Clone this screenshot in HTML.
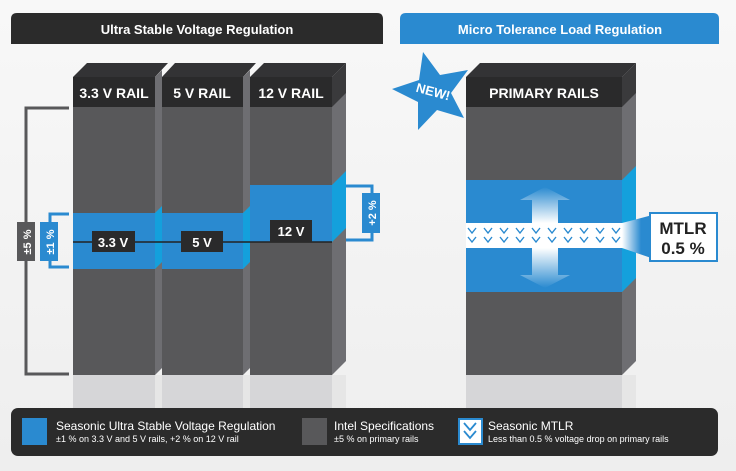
<!DOCTYPE html>
<html><head><meta charset="utf-8"><style>
html,body{margin:0;padding:0;background:#f3f3f3;}
svg{display:block;font-family:"Liberation Sans",Arial,sans-serif;}
</style></head><body>
<svg width="736" height="471" viewBox="0 0 736 471" xmlns="http://www.w3.org/2000/svg">
<defs>
<linearGradient id="bg" x1="0" y1="0" x2="0" y2="1"><stop offset="0" stop-color="#f8f8f8"/><stop offset="1" stop-color="#eeeeee"/></linearGradient>
<linearGradient id="arU" x1="0" y1="0" x2="0" y2="1"><stop offset="0" stop-color="#2a8ad0"/><stop offset="1" stop-color="#ffffff"/></linearGradient>
<linearGradient id="arD" x1="0" y1="1" x2="0" y2="0"><stop offset="0" stop-color="#2a8ad0"/><stop offset="1" stop-color="#ffffff"/></linearGradient>
<linearGradient id="con" x1="0" y1="0" x2="1" y2="0"><stop offset="0" stop-color="#ffffff"/><stop offset="0.5" stop-color="#2a8ad0"/></linearGradient>
</defs>
<rect width="736" height="471" fill="url(#bg)"/>
<path d="M11,44 V19 Q11,13 17,13 H377 Q383,13 383,19 V44 Z" fill="#2b2b2b"/>
<text x="197" y="34" fill="#fff" font-size="13" font-weight="bold" text-anchor="middle">Ultra Stable Voltage Regulation</text>
<path d="M400,44 V19 Q400,13 406,13 H713 Q719,13 719,19 V44 Z" fill="#2a8ad0"/>
<text x="560" y="34" fill="#fff" font-size="13" font-weight="bold" text-anchor="middle">Micro Tolerance Load Regulation</text>

<rect x="73" y="375" width="273" height="33" fill="#d6d6d8"/>
<rect x="155" y="375" width="7" height="33" fill="#e6e6e6"/>
<rect x="243" y="375" width="7" height="33" fill="#e6e6e6"/>
<rect x="332" y="375" width="14" height="33" fill="#e6e6e6"/>
<rect x="466" y="375" width="170" height="33" fill="#d6d6d8"/>
<rect x="622" y="375" width="14" height="33" fill="#e6e6e6"/>

<polygon points="73,77 87,63 168,63 155,77" fill="#333335"/>
<polygon points="162,77 175,63 256,63 243,77" fill="#333335"/>
<polygon points="250,77 264,63 346,63 332,77" fill="#333335"/>
<rect x="73" y="77" width="82" height="298" fill="#58585a"/>
<rect x="162" y="77" width="81" height="298" fill="#58585a"/>
<rect x="250" y="77" width="82" height="298" fill="#58585a"/>
<polygon points="155,77 162,70 162,368 155,375" fill="#6e6e72"/>
<polygon points="243,77 250,70 250,368 243,375" fill="#6e6e72"/>
<polygon points="332,77 346,63 346,361 332,375" fill="#6e6e72"/>
<rect x="73" y="77" width="82" height="30" fill="#2a2a2b"/>
<rect x="162" y="77" width="81" height="30" fill="#2a2a2b"/>
<rect x="250" y="77" width="82" height="30" fill="#2a2a2b"/>
<polygon points="332,77 346,63 346,93 332,107" fill="#3a3a3c"/>
<text x="114" y="98" fill="#fff" font-size="14" font-weight="bold" text-anchor="middle">3.3 V RAIL</text>
<text x="202" y="98" fill="#fff" font-size="14" font-weight="bold" text-anchor="middle">5 V RAIL</text>
<text x="291" y="98" fill="#fff" font-size="14" font-weight="bold" text-anchor="middle">12 V RAIL</text>

<rect x="73" y="213" width="82" height="56" fill="#2a8ad0"/>
<rect x="162" y="213" width="81" height="56" fill="#2a8ad0"/>
<polygon points="155,213 162,206 162,262 155,269" fill="#14a0dc"/>
<polygon points="243,213 250,206 250,262 243,269" fill="#14a0dc"/>
<rect x="250" y="185" width="82" height="57" fill="#2a8ad0"/>
<polygon points="332,185 346,171 346,228 332,242" fill="#14a0dc"/>
<line x1="73" y1="242" x2="332" y2="242" stroke="#222" stroke-width="1.5"/>
<rect x="92" y="231" width="43" height="21" fill="#2a2a2b"/>
<text x="113" y="247" fill="#fff" font-size="13" font-weight="bold" text-anchor="middle">3.3 V</text>
<rect x="181" y="231" width="42" height="21" fill="#2a2a2b"/>
<text x="202" y="247" fill="#fff" font-size="13" font-weight="bold" text-anchor="middle">5 V</text>
<rect x="270" y="220" width="42" height="22" fill="#2a2a2b"/>
<text x="291" y="236" fill="#fff" font-size="13" font-weight="bold" text-anchor="middle">12 V</text>

<polyline points="69,108 26,108 26,374 69,374" fill="none" stroke="#58585a" stroke-width="3"/>
<rect x="17" y="222" width="18" height="39" fill="#58585a"/>
<text transform="translate(31,242) rotate(-90)" fill="#fff" font-size="11" font-weight="bold" text-anchor="middle">±5 %</text>
<polyline points="69,214 50,214 50,267 69,267" fill="none" stroke="#2a8ad0" stroke-width="3"/>
<rect x="40" y="222" width="18" height="39" fill="#2a8ad0"/>
<text transform="translate(54,242) rotate(-90)" fill="#fff" font-size="11" font-weight="bold" text-anchor="middle">±1 %</text>
<polyline points="346,186 372,186 372,240 346,240" fill="none" stroke="#2a8ad0" stroke-width="3"/>
<rect x="362" y="193" width="18" height="40" fill="#2a8ad0"/>
<text transform="translate(376,213) rotate(-90)" fill="#fff" font-size="11" font-weight="bold" text-anchor="middle">+2 %</text>

<polygon points="423,52 440,75 468,70 451,93 464,118 437,110 418,130 418,102 392,89 419,80" fill="#2a8ad0"/>
<text transform="translate(432,96) rotate(15)" fill="#fff" font-size="13" font-weight="bold" text-anchor="middle">NEW!</text>

<polygon points="466,77 480,63 636,63 622,77" fill="#333335"/>
<rect x="466" y="77" width="156" height="298" fill="#58585a"/>
<polygon points="622,77 636,63 636,361 622,375" fill="#6e6e72"/>
<rect x="466" y="77" width="156" height="30" fill="#2a2a2b"/>
<polygon points="622,77 636,63 636,93 622,107" fill="#3a3a3c"/>
<text x="544" y="98" fill="#fff" font-size="14" font-weight="bold" text-anchor="middle">PRIMARY RAILS</text>
<rect x="466" y="180" width="156" height="112" fill="#2a8ad0"/>
<polygon points="622,180 636,166 636,278 622,292" fill="#14a0dc"/>
<polygon points="622,223 660,213 660,261 622,248" fill="url(#con)"/>
<rect x="466" y="223" width="156" height="25" fill="#ffffff"/>
<polygon points="545,187 570,200 558,200 558,223 532,223 532,200 520,200" fill="url(#arU)"/>
<polygon points="545,288 570,275 558,275 558,248 532,248 532,275 520,275" fill="url(#arD)"/>
<g fill="none" stroke="#2a8ad0" stroke-width="1.4">
<path d="M468,228 l4,5 l4,-5 M484,228 l4,5 l4,-5 M500,228 l4,5 l4,-5 M516,228 l4,5 l4,-5 M532,228 l4,5 l4,-5 M548,228 l4,5 l4,-5 M564,228 l4,5 l4,-5 M580,228 l4,5 l4,-5 M596,228 l4,5 l4,-5 M612,228 l4,5 l4,-5"/>
<path d="M468,237 l4,5 l4,-5 M484,237 l4,5 l4,-5 M500,237 l4,5 l4,-5 M516,237 l4,5 l4,-5 M532,237 l4,5 l4,-5 M548,237 l4,5 l4,-5 M564,237 l4,5 l4,-5 M580,237 l4,5 l4,-5 M596,237 l4,5 l4,-5 M612,237 l4,5 l4,-5"/>
</g>
<rect x="650" y="213" width="67" height="48" fill="#fff" stroke="#2a8ad0" stroke-width="2"/>
<text x="683" y="234" fill="#222" font-size="17" font-weight="bold" text-anchor="middle">MTLR</text>
<text x="683" y="254" fill="#222" font-size="17" font-weight="bold" text-anchor="middle">0.5 %</text>

<rect x="11" y="408" width="707" height="48" rx="7" fill="#2b2b2b"/>
<rect x="22" y="418" width="25" height="27" fill="#2a8ad0"/>
<text x="56" y="430" fill="#fff" font-size="12">Seasonic Ultra Stable Voltage Regulation</text>
<text x="56" y="442" fill="#fff" font-size="9">±1 % on 3.3 V and 5 V rails, +2 % on 12 V rail</text>
<rect x="302" y="418" width="25" height="27" fill="#58585a"/>
<text x="334" y="430" fill="#fff" font-size="12">Intel Specifications</text>
<text x="334" y="442" fill="#fff" font-size="9">±5 % on primary rails</text>
<rect x="459" y="419" width="23" height="25" fill="#fff" stroke="#2a8ad0" stroke-width="2"/>
<path d="M464,423 l6,7 l6,-7 M464,431 l6,7 l6,-7" fill="none" stroke="#2a8ad0" stroke-width="1.8"/>
<text x="488" y="430" fill="#fff" font-size="12">Seasonic MTLR</text>
<text x="488" y="442" fill="#fff" font-size="9">Less than 0.5 % voltage drop on primary rails</text>
</svg>
</body></html>
